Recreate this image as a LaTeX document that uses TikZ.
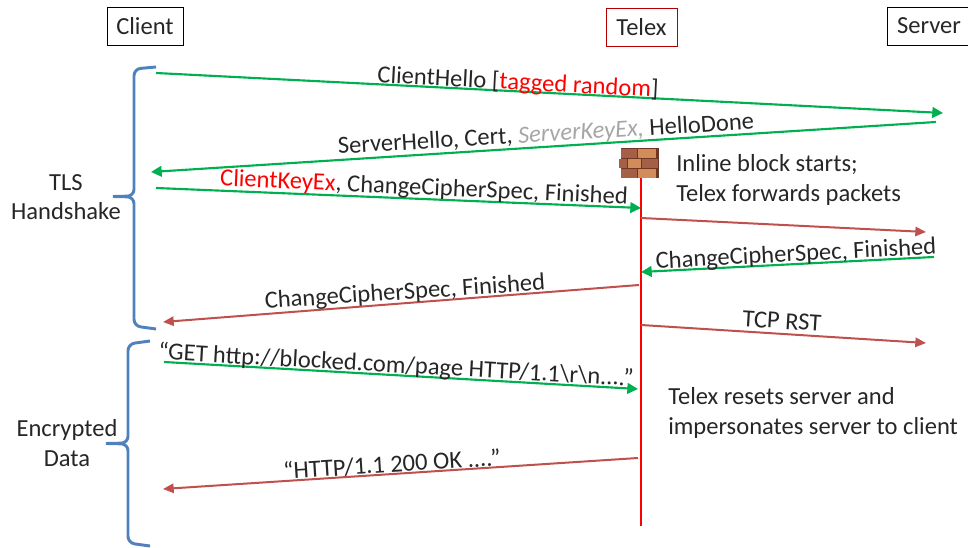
\documentclass[tikz,border=0pt]{standalone}
\usepackage{fontspec}
\setmainfont{Carlito}
\usepackage{xcolor}
\definecolor{okgreen}{RGB}{0, 176, 80}
\definecolor{dullred}{RGB}{192, 80, 77}
\definecolor{bracket}{RGB}{79, 129, 189}
\definecolor{ink}{RGB}{38, 38, 38}
\definecolor{muted}{RGB}{166, 166, 166}
\definecolor{mortar}{RGB}{110, 55, 35}
\definecolor{brickdark}{RGB}{165, 95, 70}
\definecolor{bricklight}{RGB}{210, 140, 90}
\usetikzlibrary{arrows.meta}
\tikzset{
  party/.style={draw=black, line width=0.5pt, minimum height=28.5pt, text=ink, font=\fontsize{18.4}{22}\selectfont},
  lbl/.style={text=ink, font=\fontsize{18.4}{22}\selectfont, inner sep=0pt},
  side/.style={lbl, align=center},
  tlsmsg/.style={draw=okgreen, line width=1.6pt, -{Triangle[length=8pt, width=8pt]}},
  fwdmsg/.style={draw=dullred, line width=1.5pt, -{Triangle[length=8pt, width=7pt]}},
  brace/.style={draw=bracket, line width=2.2pt, rounded corners=5pt},
  brick/.style={draw=none, fill=#1}
}
\begin{document}
\begin{tikzpicture}[x=0.75pt, y=-0.75pt]
      \useasboundingbox (0, 0) rectangle (968, 548);
      % parties
      \node[party, minimum width=57pt] (client) at (145, 26) {Client};
      \node[party, draw=red!70!black, minimum width=53pt] (telex) at (641.5, 27) {Telex};
      \node[party, minimum width=62pt] (server) at (929, 26) {Server};
      % message ends
      \coordinate (hello0) at (156, 73);
      \coordinate (hello1) at (943, 113);
      \coordinate (shello0) at (936, 122);
      \coordinate (shello1) at (151, 172);
      \coordinate (ckey0) at (156, 188);
      \coordinate (ckey1) at (641, 208);
      \coordinate (fwd0) at (641, 218);
      \coordinate (fwd1) at (926, 232);
      \coordinate (ccs0) at (934, 257);
      \coordinate (ccs1) at (641, 272);
      \coordinate (ccsb0) at (639, 285);
      \coordinate (ccsb1) at (163, 322);
      \coordinate (rst0) at (641, 325);
      \coordinate (rst1) at (926, 343);
      \coordinate (get0) at (164, 362);
      \coordinate (get1) at (638, 389);
      \coordinate (ok0) at (638, 458);
      \coordinate (ok1) at (163, 489);
      \coordinate (wire0) at (641, 150);
      \coordinate (wire1) at (641, 526);
      % telex line
      \draw[red, line width=2.2pt] (wire0)--(wire1);
      % messages
      \draw[tlsmsg] (hello0)--(hello1);
      \draw[tlsmsg] (shello0)--(shello1);
      \draw[tlsmsg] (ckey0)--(ckey1);
      \draw[fwdmsg] (fwd0)--(fwd1);
      \draw[tlsmsg] (ccs0)--(ccs1);
      \draw[fwdmsg] (ccsb0)--(ccsb1);
      \draw[fwdmsg] (rst0)--(rst1);
      \draw[tlsmsg] (get0)--(get1);
      \draw[fwdmsg] (ok0)--(ok1);
      % labels
      \node[lbl, rotate=-3] (hellotxt) at (518, 83) {ClientHello [\textcolor{red}{tagged random}]};
      \node[lbl, rotate=3.4] (shellotxt) at (546, 135) {ServerHello, Cert, \textcolor{muted}{\textit{ServerKeyEx,}} HelloDone};
      \node[lbl, rotate=-2.6] (ckeytxt) at (424, 188.5) {\textcolor{red}{ClientKeyEx}, ChangeCipherSpec, Finished};
      \node[lbl, rotate=3] (ccstxt) at (796, 255) {ChangeCipherSpec, Finished};
      \node[lbl, rotate=3.8] (ccsbtxt) at (405, 293) {ChangeCipherSpec, Finished};
      \node[lbl, rotate=-3.5] (rsttxt) at (782, 321) {TCP RST};
      \node[lbl, rotate=-3.2] (gettxt) at (396, 366) {“GET http://blocked.com/page HTTP/1.1\textbackslash r\textbackslash n....”};
      \node[lbl, rotate=3.6] (oktxt) at (392, 464) {“HTTP/1.1 200 OK ....”};
      \node[lbl, align=left, anchor=west] (inlinetxt) at (676, 180) {Inline block starts;\\Telex forwards packets};
      \node[lbl, align=left, anchor=west] (resettxt) at (668, 413) {Telex resets server and\\impersonates server to client};
      % firewall
      \fill[brick=mortar] (621, 148) rectangle (659, 178);
      \foreach \bx/\by/\bw/\bc in {621/149/16/brickdark,638/149/18/bricklight,619/159/8/brickdark,628/159/13/bricklight,642/159/16/brickdark,621/169/16/brickdark,638/169/18/bricklight} {
        \fill[brick=\bc] (\bx, \by) rectangle +(\bw, 9);
      }
      % side brackets
      \draw[brace] (156, 67)--(134, 69)--(134, 196)--(113, 196.5);
      \draw[brace] (113, 196.5)--(134, 197)--(134, 326)--(156, 329);
      \draw[brace] (150, 341)--(128, 344)--(128, 443)--(106, 443.5);
      \draw[brace] (106, 443.5)--(128, 444)--(128, 543)--(150, 546);
      \node[side] (tlstxt) at (66, 197) {TLS\\Handshake};
      \node[side] (enctxt) at (67, 443) {Encrypted\\Data};
    \end{tikzpicture}
\end{document}
